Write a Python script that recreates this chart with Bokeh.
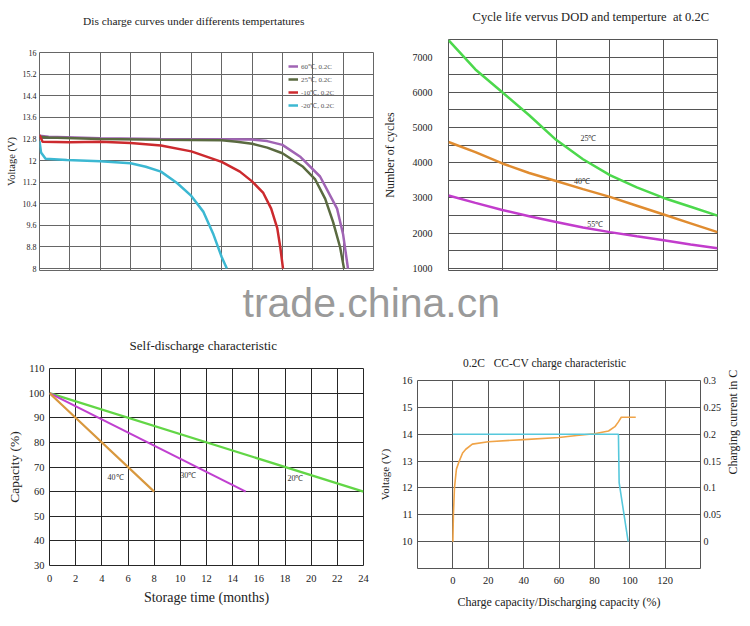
import math
from bokeh.plotting import figure
from bokeh.models import (Range1d, LinearAxis, FixedTicker, NumeralTickFormatter, Legend,
                          LegendItem, Label, Grid)
from bokeh.layouts import column, row
from bokeh.embed import file_html
from bokeh.resources import INLINE

SERIF = "Liberation Serif"

# ---------------- Chart 1: discharge curves ----------------
d60_x = [0, 0.3, 2, 4, 6, 7, 7.5, 8, 8.6, 9.24, 9.8, 10.0, 10.16]
d60_v = [12.92, 12.88, 12.83, 12.8, 12.79, 12.78, 12.72, 12.58, 12.13, 11.41, 10.22, 9.26, 8.0]
d25_x = [0, 0.3, 2, 4, 6, 6.5, 7, 7.5, 8, 8.68, 9.08, 9.41, 9.67, 9.9, 10.03]
d25_v = [12.88, 12.85, 12.8, 12.77, 12.75, 12.7, 12.62, 12.48, 12.27, 11.77, 11.3, 10.58, 9.72, 8.79, 8.0]
dm10_x = [0, 0.1, 1, 2, 3, 4, 5, 6, 6.6, 7, 7.37, 7.63, 7.83, 7.93, 8.02]
dm10_v = [12.95, 12.7, 12.68, 12.7, 12.65, 12.56, 12.34, 11.95, 11.59, 11.23, 10.8, 10.22, 9.5, 8.79, 8.0]
dm20_x = [0, 0.05, 0.2, 0.9, 2, 3, 3.5, 4, 4.53, 5, 5.4, 5.73, 6.0, 6.17]
dm20_v = [12.72, 12.3, 12.07, 12.02, 11.97, 11.9, 11.77, 11.59, 11.17, 10.69, 10.1, 9.26, 8.43, 8.0]
dis_labels = ["60℃, 0.2C", "25℃, 0.2C", "-10℃, 0.2C", "-20℃, 0.2C"]
volt_ticks = [8, 8.8, 9.6, 10.4, 11.2, 12, 12.8, 13.6, 14.4, 15.2, 16]

# ---------------- Chart 2: cycle life ----------------
dod_x = [0, 0.5, 1, 1.5, 2, 2.5, 3, 3.5, 4, 4.5, 5]
cyc_25 = [7480, 6650, 6000, 5350, 4650, 4100, 3650, 3300, 3000, 2750, 2500]
cyc_40 = [4590, 4300, 3980, 3710, 3480, 3250, 3030, 2780, 2530, 2280, 2030]
cyc_55 = [3070, 2860, 2660, 2480, 2320, 2160, 2030, 1910, 1800, 1680, 1570]
cyc_labels = ["25℃", "40℃", "55℃"]
cyc_ticks = [1000, 2000, 3000, 4000, 5000, 6000, 7000]

# ---------------- Chart 3: self-discharge ----------------
sd20_m = [0, 24]
sd20_c = [100, 60]
sd30_m = [0, 15]
sd30_c = [100, 60]
sd40_m = [0, 1, 8]
sd40_c = [100, 95, 60]
sd_labels = ["40℃", "30℃", "20℃"]
month_ticks = [0, 2, 4, 6, 8, 10, 12, 14, 16, 18, 20, 22, 24]
capacity_ticks = [30, 40, 50, 60, 70, 80, 90, 100, 110]

# ---------------- Chart 4: CC-CV charge ----------------
chg_x = [0, 0.3, 0.9, 2, 3.6, 5.5, 7.3, 11, 20, 40, 60, 70, 80, 88, 91.6, 93.5, 95.2, 103.4]
chg_v = [10, 11, 12, 12.7, 13.0, 13.3, 13.44, 13.63, 13.72, 13.8, 13.88, 13.95, 14.02, 14.12, 14.28, 14.45, 14.63, 14.63]
cur_x = [0, 93.6, 94.0, 99.1]
cur_c = [0.2, 0.2, 0.11, 0.0]
pct_ticks = [0, 20, 40, 60, 80, 100, 120]
pct_grid = [-20, 0, 20, 40, 60, 80, 100, 120, 140]
v4_ticks = [10, 11, 12, 13, 14, 15, 16]
cur_ticks = [0, 0.05, 0.1, 0.15, 0.2, 0.25, 0.3]

NB = "\u00a0"


def base_fig(w, h, xr, yr, mb, grid_color, x_axis=True):
    kw = dict(width=w, height=h, x_range=xr, y_range=yr, toolbar_location=None,
              output_backend="svg", min_border_left=mb[0], min_border_right=mb[1],
              min_border_top=mb[2], min_border_bottom=mb[3])
    if not x_axis:
        kw["x_axis_type"] = None
    p = figure(**kw)
    p.frame_align = False
    p.outline_line_color = grid_color
    p.outline_line_width = 1
    p.background_fill_color = "white"
    p.border_fill_color = "white"
    return p


def style_axis(ax, font_size, label_size, standoff, label_standoff):
    ax.axis_line_color = None
    ax.major_tick_out = 0
    ax.major_tick_in = 0
    ax.minor_tick_out = 0
    ax.minor_tick_in = 0
    ax.major_label_text_font = SERIF
    ax.major_label_text_font_size = font_size
    ax.major_label_text_color = "#222222"
    ax.major_label_standoff = standoff
    ax.axis_label_text_font = SERIF
    ax.axis_label_text_font_size = label_size
    ax.axis_label_text_font_style = "normal"
    ax.axis_label_text_color = "#222222"
    ax.axis_label_standoff = label_standoff


def add_title(p, text, size, gap, pad_left, pad_right):
    # the chart title is the label of a tickless axis above the frame
    ax = LinearAxis(ticker=FixedTicker(ticks=[]),
                    axis_label=NB * pad_left + text + NB * pad_right)
    style_axis(ax, "1px", size, 0, gap)
    p.add_layout(ax, "above")


# ---------- figure 1 ----------
g1 = "#666666"
p1 = base_fig(375, 275, Range1d(0, 11), Range1d(7.93, 16), (39, 2, 52, 5), g1, x_axis=False)
p1.add_layout(Grid(dimension=0, ticker=FixedTicker(ticks=list(range(12))),
                   grid_line_color=g1))
p1.yaxis.ticker = FixedTicker(ticks=volt_ticks)
p1.yaxis.formatter = NumeralTickFormatter(format="0.[0]")
p1.yaxis.axis_label = "Voltage (V)"
style_axis(p1.yaxis[0], "8px", "10.5px", 3, 3)
p1.ygrid.grid_line_color = g1
add_title(p1, "Dis charge curves under differents tempertatures", "11.4px", 26, 0, 9)

r60 = p1.line(d60_x, d60_v, line_color="#a064b4", line_width=2.5)
r25 = p1.line(d25_x, d25_v, line_color="#5a6a40", line_width=2.5)
rm10 = p1.line(dm10_x, dm10_v, line_color="#cc2a2e", line_width=2.5)
rm20 = p1.line(dm20_x, dm20_v, line_color="#3cb8d2", line_width=2.5)
leg = Legend(items=[LegendItem(label=dis_labels[0], renderers=[r60]),
                    LegendItem(label=dis_labels[1], renderers=[r25]),
                    LegendItem(label=dis_labels[2], renderers=[rm10]),
                    LegendItem(label=dis_labels[3], renderers=[rm20])],
             location=(249, 160), background_fill_alpha=0, border_line_color=None,
             label_text_font=SERIF, label_text_font_size="7px", label_text_color="#555555",
             glyph_width=10, glyph_height=10, label_height=10, spacing=3, padding=2,
             margin=0, label_standoff=3)
p1.add_layout(leg)

# ---------- figure 2 ----------
g2 = "#555555"
p2 = base_fig(375, 275, Range1d(0, 5), Range1d(940, 7500), (73, 33, 39, 5), g2, x_axis=False)
p2.add_layout(Grid(dimension=0, ticker=FixedTicker(ticks=[0, 1, 2, 3, 4, 5]),
                   grid_line_color=g2))
p2.yaxis.ticker = FixedTicker(ticks=cyc_ticks)
p2.ygrid.ticker = FixedTicker(ticks=[1000 + 500 * i for i in range(14)])
p2.ygrid.grid_line_color = g2
p2.yaxis.axis_label = "Number of cycles"
style_axis(p2.yaxis[0], "10px", "12px", 16, 13)
add_title(p2, "Cycle life vervus DOD and temperture" + NB + NB + "at 0.2C", "12.5px", 16, 5, 0)

p2.line(dod_x, cyc_25, line_color="#4cd84c", line_width=2.5)
p2.line(dod_x, cyc_40, line_color="#e08c30", line_width=2.5)
p2.line(dod_x, cyc_55, line_color="#c23ccc", line_width=2.5)
for txt, lx, ly in zip(cyc_labels, [2.6, 2.48, 2.73], [4700, 3470, 2245]):
    p2.add_layout(Label(x=lx, y=ly, text=txt, text_align="center", text_baseline="middle",
                        text_font=SERIF, text_font_size="8px", text_color="#333333"))

# ---------- watermark band ----------
band = figure(width=750, height=54, x_range=Range1d(0, 1), y_range=Range1d(0, 1),
              toolbar_location=None, output_backend="svg", x_axis_type=None,
              y_axis_type=None, min_border=0)
band.frame_align = False
band.outline_line_color = None
band.grid.visible = False
band.add_layout(Label(x=242, y=27, x_units="screen", y_units="screen", text="trade.china.cn",
                      text_font="Liberation Sans", text_font_size="41px",
                      text_color="#9a9a9a", text_baseline="middle"))

# ---------- figure 3 ----------
g3 = "#262626"
p3 = base_fig(375, 297, Range1d(0, 24), Range1d(30, 110), (49, 12, 39, 61), g3)
p3.xaxis.ticker = FixedTicker(ticks=month_ticks)
p3.yaxis.ticker = FixedTicker(ticks=capacity_ticks)
p3.xgrid.grid_line_color = g3
p3.ygrid.grid_line_color = g3
p3.xaxis.axis_label = "Storage time (months)"
p3.yaxis.axis_label = "Capacity (%)"
style_axis(p3.xaxis[0], "10.5px", "14px", 9, 5)
style_axis(p3.yaxis[0], "10.5px", "13.5px", 5, 4)
add_title(p3, "Self-discharge characteristic", "13px", 16, 0, 2)

p3.line(sd20_m, sd20_c, line_color="#62d646", line_width=2.2)
p3.line(sd30_m, sd30_c, line_color="#c040d0", line_width=2.2)
p3.line(sd40_m, sd40_c, line_color="#d8983e", line_width=2.2)
for txt, lx, ly in zip(sd_labels, [5.05, 10.6, 18.8], [65.8, 66.6, 65.4]):
    p3.add_layout(Label(x=lx, y=ly, text=txt, text_align="center", text_baseline="middle",
                        text_font=SERIF, text_font_size="8px", text_color="#333333"))

# ---------- figure 4 ----------
g4 = "#555555"
p4 = base_fig(375, 297, Range1d(-20, 140), Range1d(9, 16), (37, 47, 51, 58), g4)
p4.extra_y_ranges = {"cur": Range1d(-0.05, 0.3)}
p4.xaxis.ticker = FixedTicker(ticks=pct_ticks)
p4.xgrid.ticker = FixedTicker(ticks=pct_grid)
p4.yaxis.ticker = FixedTicker(ticks=v4_ticks)
p4.xgrid.grid_line_color = g4
p4.ygrid.grid_line_color = g4
p4.xaxis.axis_label = "Charge capacity/Discharging capacity (%)"
p4.yaxis.axis_label = "Voltage (V)"
style_axis(p4.xaxis[0], "10.5px", "12px", 8, 8)
style_axis(p4.yaxis[0], "10.5px", "11px", 5, 8)
rax = LinearAxis(y_range_name="cur", ticker=FixedTicker(ticks=cur_ticks),
                 formatter=NumeralTickFormatter(format="0.[00]"),
                 axis_label="Charging current in C")
style_axis(rax, "10px", "12px", 3, 9)
if "axis_label_orientation" in rax.properties():
    rax.axis_label_orientation = math.pi / 2
p4.add_layout(rax, "right")
add_title(p4, "0.2C" + NB * 3 + "CC-CV charge characteristic", "11.5px", 12, 0, 10)

p4.line(chg_x, chg_v, line_color="#f0a448", line_width=1.6)
p4.line(cur_x, cur_c, y_range_name="cur", line_color="#56c8dc", line_width=1.6)

layout = column(row(p1, p2), band, row(p3, p4))
open("out.html", "w").write(file_html(layout, INLINE))
